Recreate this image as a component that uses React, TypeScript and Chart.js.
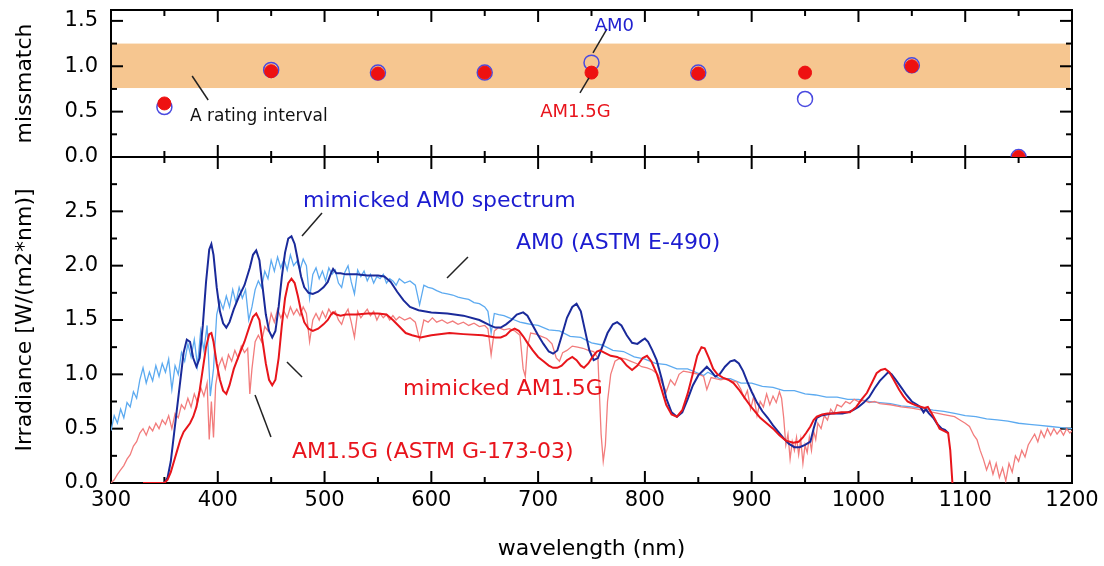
import React, { useEffect, useRef } from 'react';
import { Chart, registerables } from 'chart.js';

Chart.register(...registerables);

const FONT = '"DejaVu Sans", "Liberation Sans", Arial, sans-serif';

// ---------- data ----------
const xRange = [300, 1200];
const irrRange = [0, 3];
const mismatchRange = [0, 1.62];
const ratingBand = [0.76, 1.25];

const am0Wl = [300,303,306,309,312,315,318,321,324,327,330,333,336,339,342,345,348,351,354,357,360,363,366,369,372,375,378,381,384,387,390,393,396,399,402,405,408,411,414,417,420,423,426,429,432,435,438,441,444,447,450,453,456,459,462,465,468,471,474,477,480,483,486,489,492,495,498,501,504,507,510,513,516,519,522,525,528,531,534,537,540,543,546,549,552,555,558,561,564,567,570,575,580,585,589,593,597,601,605,610,615,620,625,630,635,640,645,650,653,656,659,663,668,673,678,683,688,693,700,710,720,730,740,750,760,770,780,790,800,810,820,830,840,850,855,859,870,880,890,900,910,920,930,940,950,960,970,980,990,1000,1010,1020,1030,1040,1050,1060,1070,1080,1090,1100,1110,1120,1130,1140,1150,1160,1170,1180,1190,1200];
const am0Irr = [0.48,0.62,0.55,0.68,0.60,0.74,0.70,0.84,0.78,0.95,1.06,0.92,1.02,0.94,1.08,0.98,1.10,1.02,1.14,0.86,1.08,1.00,1.20,1.12,1.28,1.16,1.32,1.08,1.40,1.22,1.45,0.80,1.05,1.55,1.68,1.60,1.72,1.62,1.78,1.66,1.80,1.70,1.78,1.50,1.62,1.78,1.86,1.80,1.95,1.88,2.05,1.95,2.08,1.98,2.06,1.96,2.10,2.00,2.04,1.96,2.06,2.00,1.70,1.92,1.98,1.88,1.95,1.86,1.98,1.92,1.96,1.84,1.80,1.94,2.00,1.85,1.74,1.96,1.90,1.95,1.86,1.92,1.84,1.90,1.88,1.92,1.84,1.88,1.86,1.82,1.88,1.84,1.86,1.82,1.64,1.82,1.80,1.79,1.77,1.75,1.74,1.73,1.71,1.70,1.69,1.66,1.65,1.62,1.58,1.38,1.56,1.55,1.54,1.52,1.50,1.48,1.47,1.46,1.45,1.41,1.40,1.35,1.34,1.29,1.27,1.22,1.21,1.16,1.14,1.10,1.09,1.05,1.05,1.01,0.99,1.02,0.96,0.96,0.92,0.92,0.89,0.88,0.85,0.85,0.82,0.81,0.79,0.79,0.77,0.77,0.75,0.74,0.73,0.71,0.70,0.69,0.67,0.66,0.64,0.62,0.61,0.59,0.58,0.57,0.55,0.54,0.53,0.52,0.51,0.50];

const am15Wl = [300,303,306,309,312,315,318,321,324,327,330,333,336,339,342,345,348,351,354,357,360,363,366,369,372,375,378,381,384,387,390,392,394,396,398,401,404,407,410,413,416,419,422,425,428,430,432,435,438,441,444,447,450,453,456,459,462,465,468,471,474,477,480,483,486,489,492,495,498,501,504,507,510,513,516,519,522,525,528,531,534,537,540,543,546,549,552,555,558,561,564,567,570,575,580,585,589,593,597,601,605,610,615,620,625,630,635,640,645,650,653,656,659,663,668,673,678,683,686,688,690,693,698,703,708,713,717,720,723,727,732,737,742,747,752,756,759,761,763,765,768,772,777,782,787,792,797,802,807,812,816,820,824,828,832,836,841,846,851,855,858,862,866,871,876,881,886,890,893,896,899,902,905,908,911,914,917,920,923,926,928,930,932,934,936,938,940,942,944,946,948,950,952,954,956,958,960,962,965,968,971,974,977,980,984,988,992,996,1000,1005,1010,1015,1020,1030,1040,1050,1060,1070,1080,1090,1095,1100,1104,1108,1111,1114,1117,1120,1123,1126,1129,1132,1135,1138,1141,1144,1147,1150,1153,1156,1159,1162,1165,1168,1171,1174,1177,1180,1183,1186,1189,1192,1195,1198,1200];
const am15Irr = [0.00,0.03,0.08,0.12,0.16,0.22,0.26,0.34,0.38,0.46,0.50,0.44,0.52,0.48,0.55,0.50,0.58,0.54,0.62,0.50,0.64,0.60,0.72,0.68,0.78,0.70,0.82,0.74,0.88,0.80,0.92,0.40,0.75,0.42,0.90,1.08,1.15,1.05,1.18,1.12,1.22,1.15,1.26,1.20,1.24,0.82,1.05,1.30,1.36,1.30,1.44,1.40,1.56,1.48,1.60,1.52,1.58,1.52,1.62,1.55,1.60,1.54,1.62,1.56,1.30,1.50,1.56,1.50,1.58,1.52,1.60,1.55,1.58,1.50,1.46,1.55,1.60,1.48,1.34,1.58,1.52,1.56,1.60,1.54,1.58,1.50,1.56,1.52,1.55,1.50,1.54,1.50,1.53,1.50,1.52,1.48,1.32,1.50,1.48,1.52,1.48,1.50,1.47,1.49,1.46,1.48,1.45,1.47,1.44,1.45,1.42,1.18,1.40,1.43,1.41,1.42,1.40,1.36,1.05,0.98,1.25,1.38,1.37,1.35,1.33,1.28,1.15,1.12,1.20,1.22,1.26,1.25,1.24,1.22,1.21,1.15,0.45,0.20,0.35,0.75,1.00,1.12,1.15,1.14,1.12,1.10,1.07,1.06,1.04,1.00,0.92,0.84,0.95,0.90,1.00,1.03,1.02,1.01,1.00,0.98,0.86,0.97,0.96,0.95,0.96,0.94,0.93,0.86,0.78,0.85,0.68,0.80,0.62,0.75,0.70,0.82,0.72,0.80,0.74,0.84,0.78,0.60,0.35,0.45,0.22,0.38,0.30,0.42,0.26,0.40,0.18,0.35,0.28,0.42,0.30,0.48,0.40,0.55,0.50,0.62,0.58,0.68,0.64,0.72,0.70,0.75,0.73,0.77,0.75,0.76,0.74,0.75,0.73,0.72,0.70,0.69,0.67,0.65,0.63,0.61,0.58,0.55,0.52,0.44,0.40,0.30,0.22,0.12,0.20,0.08,0.18,0.05,0.14,0.02,0.18,0.10,0.25,0.20,0.30,0.24,0.35,0.40,0.45,0.38,0.48,0.42,0.50,0.44,0.50,0.45,0.49,0.44,0.50,0.46,0.48];

const simAm0Wl = [330,350,353,356,359,362,365,368,371,374,377,380,383,386,389,392,394,396,399,402,405,408,411,415,420,425,430,433,436,439,442,445,448,451,454,457,460,463,466,469,472,475,478,481,485,489,494,499,503,506,508,511,515,520,530,540,550,556,562,568,574,580,588,600,615,630,645,655,660,665,670,675,680,686,690,695,700,705,710,714,718,722,727,732,736,740,744,748,752,756,760,765,770,774,778,783,788,793,797,800,803,807,811,816,820,825,830,835,840,845,850,855,858,862,866,870,875,880,884,888,892,896,900,905,910,915,920,925,930,935,940,945,950,955,958,961,965,970,975,980,985,990,995,1000,1005,1010,1015,1020,1025,1028,1031,1035,1040,1045,1050,1055,1058,1061,1063,1066,1070,1074,1078,1081,1084];
const simAm0Irr = [0,0,0.05,0.20,0.45,0.70,0.95,1.20,1.32,1.30,1.15,1.07,1.15,1.45,1.85,2.15,2.20,2.10,1.80,1.58,1.47,1.43,1.48,1.60,1.72,1.82,1.98,2.10,2.14,2.05,1.80,1.55,1.40,1.34,1.40,1.62,1.90,2.12,2.25,2.27,2.20,2.05,1.90,1.80,1.75,1.74,1.76,1.80,1.85,1.93,1.97,1.93,1.93,1.92,1.92,1.91,1.91,1.90,1.85,1.76,1.68,1.62,1.59,1.57,1.56,1.54,1.50,1.45,1.43,1.43,1.46,1.50,1.55,1.57,1.54,1.45,1.36,1.28,1.21,1.19,1.22,1.35,1.52,1.62,1.65,1.58,1.40,1.22,1.13,1.15,1.25,1.38,1.46,1.48,1.45,1.36,1.29,1.28,1.31,1.33,1.30,1.22,1.13,0.95,0.78,0.65,0.61,0.65,0.77,0.90,0.99,1.04,1.07,1.03,0.98,1.00,1.07,1.12,1.13,1.10,1.03,0.93,0.84,0.74,0.66,0.60,0.53,0.47,0.41,0.36,0.33,0.33,0.35,0.38,0.50,0.60,0.62,0.63,0.64,0.64,0.64,0.65,0.67,0.70,0.74,0.79,0.87,0.94,0.99,1.02,1.00,0.95,0.88,0.81,0.75,0.72,0.70,0.65,0.68,0.64,0.60,0.54,0.50,0.49,0.46];

const simAm15Wl = [330,350,353,356,359,362,365,368,371,374,377,380,383,386,389,392,394,396,399,402,405,408,411,415,420,425,430,433,436,439,442,445,448,451,454,457,460,463,466,469,472,475,478,481,485,489,494,499,503,506,508,511,515,520,530,540,550,558,564,570,576,582,590,600,617,630,648,660,665,670,674,678,682,686,690,695,700,705,710,714,718,722,727,732,736,740,743,747,751,755,758,762,768,774,778,783,788,793,798,802,806,811,816,820,825,830,835,840,845,849,853,856,860,864,868,873,878,883,888,893,898,903,908,914,920,926,932,939,944,948,951,955,958,961,966,971,976,984,992,998,1003,1008,1013,1017,1021,1025,1029,1033,1038,1042,1046,1050,1055,1059,1062,1065,1068,1072,1076,1080,1084,1086,1088];
const simAm15Irr = [0,0,0.03,0.10,0.20,0.30,0.40,0.47,0.51,0.55,0.61,0.70,0.85,1.05,1.25,1.37,1.38,1.30,1.10,0.95,0.85,0.82,0.90,1.05,1.18,1.30,1.45,1.53,1.56,1.50,1.30,1.10,0.95,0.90,0.95,1.15,1.45,1.70,1.84,1.88,1.84,1.72,1.58,1.48,1.42,1.40,1.42,1.46,1.50,1.55,1.57,1.55,1.54,1.55,1.55,1.56,1.56,1.55,1.50,1.44,1.38,1.36,1.34,1.36,1.38,1.37,1.36,1.34,1.34,1.36,1.40,1.42,1.40,1.35,1.29,1.22,1.16,1.12,1.08,1.06,1.06,1.08,1.13,1.16,1.13,1.08,1.06,1.10,1.16,1.21,1.22,1.20,1.17,1.16,1.14,1.08,1.04,1.08,1.15,1.17,1.12,1.01,0.85,0.72,0.63,0.61,0.67,0.82,1.01,1.17,1.25,1.24,1.15,1.05,1.00,0.97,0.95,0.92,0.86,0.79,0.72,0.66,0.60,0.55,0.50,0.44,0.39,0.37,0.38,0.42,0.46,0.52,0.58,0.61,0.63,0.64,0.64,0.65,0.65,0.70,0.77,0.83,0.93,1.01,1.04,1.05,1.02,0.95,0.86,0.80,0.75,0.73,0.71,0.70,0.69,0.70,0.65,0.58,0.50,0.48,0.46,0.30,0.00];

const mismatchWl = [350, 450, 550, 650, 750, 850, 950, 1050, 1150];
const mismatchAm0 = [0.55, 0.96, 0.93, 0.93, 1.04, 0.93, 0.64, 1.01, 0.0];
const mismatchAm15G = [0.59, 0.945, 0.92, 0.93, 0.93, 0.92, 0.93, 1.00, 0.0];

// annotation labels: text, anchor (wavelength, value), axis, leader line in data units
const annotations = [
  { text: 'A rating interval', axis: 'y2', x: 374, y: 0.40, color: '#111111', size: 17, line: [376, 0.893, 391, 0.628] },
  { text: 'AM0', axis: 'y2', x: 753, y: 1.39, color: '#2020d0', size: 18, line: [764.5, 1.411, 751.4, 1.147] },
  { text: 'AM1.5G', axis: 'y2', x: 702, y: 0.44, color: '#e8141c', size: 18, line: [747.6, 0.871, 739.2, 0.706] },
  { text: 'mimicked AM0 spectrum', axis: 'y', x: 479.8, y: 2.54, color: '#1c1cd0', size: 22, line: [497.6, 2.484, 478.9, 2.272] },
  { text: 'AM0 (ASTM E-490)', axis: 'y', x: 679.3, y: 2.15, color: '#1c1cd0', size: 22, line: [634.3, 2.079, 614.7, 1.886] },
  { text: 'mimicked AM1.5G', axis: 'y', x: 573.5, y: 0.81, color: '#e8141c', size: 22, line: [464.8, 1.113, 478.9, 0.975] },
  { text: 'AM1.5G (ASTM G-173-03)', axis: 'y', x: 469.5, y: 0.23, color: '#e8141c', size: 22, line: [434.9, 0.81, 449.8, 0.423] },
];

const pts = (xs: number[], ys: number[]) => xs.map((x, i) => ({ x, y: ys[i] }));

const backgroundPlugin = {
  id: 'frameAndBand',
  beforeDatasetsDraw(chart: any) {
    const { ctx, chartArea: a, scales } = chart;
    const x = scales.x, y = scales.y, y2 = scales.y2;
    ctx.save();
    // rating band
    const bx0 = x.getPixelForValue(xRange[0]);
    const bx1 = x.getPixelForValue(xRange[1]);
    const by0 = y2.getPixelForValue(ratingBand[1]);
    const by1 = y2.getPixelForValue(ratingBand[0]);
    ctx.fillStyle = '#f6c690';
    ctx.fillRect(bx0, by0, bx1 - bx0 - 2, by1 - by0);
    // frame
    ctx.strokeStyle = '#000';
    ctx.lineWidth = 2;
    ctx.strokeRect(a.left, a.top, a.right - a.left, a.bottom - a.top);
    const mid = y2.getPixelForValue(0);
    const seg = (x0: number, y0: number, x1: number, y1: number) => {
      ctx.beginPath(); ctx.moveTo(x0, y0); ctx.lineTo(x1, y1); ctx.stroke();
    };
    seg(a.left, mid, a.right, mid);
    for (let v = xRange[0]; v <= xRange[1]; v += 50) {
      const px = x.getPixelForValue(v);
      const L = v % 100 === 0 ? 12 : 6;
      seg(px, a.top, px, a.top + L);
      seg(px, mid - L, px, mid + L);
      seg(px, a.bottom, px, a.bottom - L);
    }
    const yTicks = (sc: any, max: number) => {
      for (let i = 1; i * 0.25 < max - 0.01; i++) {
        const v = i * 0.25;
        const py = sc.getPixelForValue(v);
        const L = i % 2 === 0 ? 12 : 6;
        seg(a.left, py, a.left + L, py);
        seg(a.right, py, a.right - L, py);
      }
    };
    yTicks(y2, mismatchRange[1]);
    yTicks(y, irrRange[1]);
    ctx.restore();
  },
};

const annotationPlugin = {
  id: 'labels',
  afterDatasetsDraw(chart: any) {
    const { ctx, scales } = chart;
    const x = scales.x;
    ctx.save();
    for (const an of annotations) {
      const sc = scales[an.axis];
      ctx.strokeStyle = '#222';
      ctx.lineWidth = 1.5;
      ctx.beginPath();
      ctx.moveTo(x.getPixelForValue(an.line[0]), sc.getPixelForValue(an.line[1]));
      ctx.lineTo(x.getPixelForValue(an.line[2]), sc.getPixelForValue(an.line[3]));
      ctx.stroke();
      ctx.fillStyle = an.color;
      ctx.font = `${an.size}px ${FONT}`;
      ctx.textAlign = 'left';
      ctx.textBaseline = 'alphabetic';
      ctx.fillText(an.text, x.getPixelForValue(an.x), sc.getPixelForValue(an.y));
    }
    ctx.restore();
  },
};

const tickFont = { family: FONT, size: 21 };
const titleFont = { family: FONT, size: 22 };
const fmt = (v: any) => {
  const n = Number(v);
  if (Math.abs(n * 2 - Math.round(n * 2)) > 1e-6) return '';
  return n.toFixed(1);
};
const noPad = (s: any) => { s.paddingTop = 0; s.paddingBottom = 0; };

export default function App() {
  const ref = useRef<HTMLCanvasElement>(null);
  useEffect(() => {
    const chart = new Chart(ref.current as HTMLCanvasElement, {
      type: 'line',
      data: {
        datasets: [
          { type: 'line', label: 'AM1.5G mismatch', data: pts(mismatchWl, mismatchAm15G), yAxisID: 'y2', showLine: false, pointRadius: 6.5, pointBackgroundColor: '#ee1111', pointBorderColor: '#ee1111', pointBorderWidth: 1, borderColor: '#ee1111' },
          { type: 'line', label: 'AM0 mismatch', data: pts(mismatchWl, mismatchAm0), yAxisID: 'y2', showLine: false, pointRadius: 7.5, pointBackgroundColor: 'rgba(255,255,255,0)', pointBorderColor: '#4a4ae0', pointBorderWidth: 1.5, borderColor: '#4a4ae0' },
          { type: 'line', label: 'mimicked AM1.5G', data: pts(simAm15Wl, simAm15Irr), yAxisID: 'y', borderColor: '#e8151b', borderWidth: 2, pointRadius: 0, tension: 0 },
          { type: 'line', label: 'mimicked AM0 spectrum', data: pts(simAm0Wl, simAm0Irr), yAxisID: 'y', borderColor: '#1a2a9a', borderWidth: 2, pointRadius: 0, tension: 0 },
          { type: 'line', label: 'AM1.5G (ASTM G-173-03)', data: pts(am15Wl, am15Irr), yAxisID: 'y', borderColor: '#f27c7c', borderWidth: 1.3, pointRadius: 0, tension: 0 },
          { type: 'line', label: 'AM0 (ASTM E-490)', data: pts(am0Wl, am0Irr), yAxisID: 'y', borderColor: '#5caaf0', borderWidth: 1.3, pointRadius: 0, tension: 0 },
        ],
      },
      options: {
        animation: false,
        responsive: false,
        maintainAspectRatio: false,
        layout: { padding: { top: 10, right: 32, left: 0, bottom: 0 } },
        plugins: { legend: { display: false }, tooltip: { enabled: false } },
        scales: {
          x: {
            type: 'linear', position: 'bottom', min: xRange[0], max: xRange[1],
            grid: { display: false, drawTicks: false }, border: { display: false },
            ticks: { stepSize: 100, includeBounds: false, autoSkip: false, maxRotation: 0, padding: 5, color: '#000', font: tickFont, callback: (v: any) => String(v) },
            title: { display: true, text: 'wavelength (nm)', color: '#000', font: titleFont, padding: { top: 4, bottom: 4 } },
            afterFit: (s: any) => { s.height = 83; s.paddingLeft = 0; s.paddingRight = 0; },
          },
          y: {
            type: 'linear', position: 'left', stack: 'panels', stackWeight: 326, min: irrRange[0], max: irrRange[1],
            grid: { display: false, drawTicks: false }, border: { display: false },
            ticks: { stepSize: 0.5, includeBounds: false, padding: 13, color: '#000', font: tickFont, callback: (v: any) => (Number(v) >= irrRange[1] ? '' : fmt(v)) },
            title: { display: true, text: 'Irradiance [W/(m2*nm)]', color: '#000', font: titleFont, padding: { top: 12, bottom: 4 } },
            afterFit: (s: any) => { s.width = 111; noPad(s); },
          },
          y2: {
            type: 'linear', position: 'left', stack: 'panels', stackWeight: 147, min: mismatchRange[0], max: mismatchRange[1],
            grid: { display: false, drawTicks: false }, border: { display: false },
            ticks: { stepSize: 0.5, includeBounds: false, padding: 13, color: '#000', font: tickFont, callback: fmt },
            title: { display: true, text: 'missmatch', color: '#000', font: titleFont, padding: { top: 12, bottom: 4 } },
            afterFit: (s: any) => { s.width = 111; noPad(s); },
          },
        },
      } as any,
      plugins: [backgroundPlugin, annotationPlugin],
    } as any);
    return () => chart.destroy();
  }, []);
  return (
    <div style={{ position: 'fixed', left: 0, top: 0, width: 1104, height: 566, background: '#fff' }}>
      <canvas ref={ref} width={1104} height={566} style={{ display: 'block', width: 1104, height: 566 }} />
    </div>
  );
}
